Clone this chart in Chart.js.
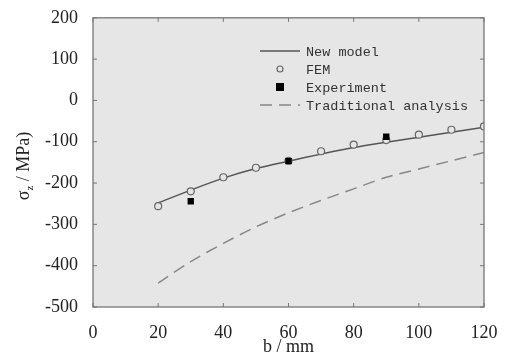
<!DOCTYPE html>
<html>
<head>
<meta charset="utf-8">
<script src="https://cdn.jsdelivr.net/npm/chart.js@4.4.1/dist/chart.umd.min.js"></script>
<style>
  html, body { margin: 0; padding: 0; background: #fff; }
  #wrap { width: 507px; height: 356px; }
</style>
</head>
<body>
<div id="wrap"><canvas id="chart" width="507" height="356"></canvas></div>
<script>
// b values (mm)
const bValues = [20, 30, 40, 50, 60, 70, 80, 90, 100, 110, 120];
const newModel = [-248, -217, -188, -165, -147, -130, -114, -101, -89, -77, -65];
const femValues = [-256, -220, -186, -163, -146, -123, -107, -96, -83, -71, -63];
const expB = [30, 60, 90];
const expValues = [-244, -147, -88];
const traditional = [-442, -390, -346, -306, -272, -242, -214, -186, -166, -146, -126];

const xTicks = [0, 20, 40, 60, 80, 100, 120];
const yTicks = [-500, -400, -300, -200, -100, 0, 100, 200];
const legendLabels = ['New model', 'FEM', 'Experiment', 'Traditional analysis'];

const toPoints = (xs, ys) => xs.map((x, i) => ({ x: x, y: ys[i] }));

const serif = '"Liberation Serif", "DejaVu Serif", serif';

// gray plot background, frame with inward ticks, axis titles and legend
const framePlugin = {
    id: 'frame',
    beforeDatasetsDraw(chart) {
        const { ctx, chartArea: a } = chart;
        ctx.save();
        ctx.fillStyle = '#e6e6e6';
        ctx.fillRect(a.left, a.top, a.right - a.left, a.bottom - a.top);
        ctx.restore();
    },
    afterDatasetsDraw(chart) {
        const { ctx, chartArea: a, scales } = chart;
        ctx.save();
        ctx.strokeStyle = '#777';
        ctx.lineWidth = 1.3;
        ctx.strokeRect(a.left, a.top, a.right - a.left, a.bottom - a.top);
        ctx.lineWidth = 1;
        ctx.beginPath();
        xTicks.forEach(v => {
            const px = scales.x.getPixelForValue(v);
            ctx.moveTo(px, a.bottom); ctx.lineTo(px, a.bottom - 4);
            ctx.moveTo(px, a.top); ctx.lineTo(px, a.top + 4);
        });
        yTicks.forEach(v => {
            const py = scales.y.getPixelForValue(v);
            ctx.moveTo(a.left, py); ctx.lineTo(a.left + 4, py);
            ctx.moveTo(a.right, py); ctx.lineTo(a.right - 4, py);
        });
        ctx.stroke();

        // x axis title
        ctx.fillStyle = '#222';
        ctx.font = '18px ' + serif;
        ctx.textAlign = 'center';
        ctx.textBaseline = 'middle';
        ctx.fillText('b / mm', (a.left + a.right) / 2, 347);

        // y axis title with subscript
        ctx.save();
        ctx.translate(24, 166);
        ctx.rotate(-Math.PI / 2);
        ctx.textAlign = 'left';
        const sig = 'σ', rest = ' / MPa)';
        ctx.font = '18px ' + serif;
        const w1 = ctx.measureText(sig).width;
        ctx.font = '11px ' + serif;
        const w2 = ctx.measureText('z').width;
        ctx.font = '18px ' + serif;
        const w3 = ctx.measureText(rest).width;
        const x0 = -(w1 + w2 + w3) / 2;
        ctx.fillText(sig, x0, 0);
        ctx.font = '11px ' + serif;
        ctx.fillText('z', x0 + w1, 6);
        ctx.font = '18px ' + serif;
        ctx.fillText(rest, x0 + w1 + w2, 0);
        ctx.restore();

        // legend
        const rows = [51, 69, 87, 105];
        const sx0 = 260, sx1 = 300, tx = 306;
        ctx.font = '13.5px "Liberation Mono", "DejaVu Sans Mono", monospace';
        ctx.textAlign = 'left';
        ctx.textBaseline = 'middle';
        chart.data.datasets.forEach((ds, i) => {
            const y = rows[i];
            ctx.save();
            if (ds.showLine !== false) {
                ctx.strokeStyle = ds.borderColor;
                ctx.lineWidth = ds.borderWidth;
                ctx.setLineDash(ds.borderDash || []);
                ctx.beginPath();
                ctx.moveTo(sx0, y); ctx.lineTo(sx1, y);
                ctx.stroke();
            } else if (ds.pointStyle === 'rect') {
                ctx.fillStyle = ds.pointBackgroundColor;
                ctx.fillRect(276, y - 4, 8, 8);
            } else {
                ctx.strokeStyle = ds.pointBorderColor;
                ctx.lineWidth = 1.2;
                ctx.beginPath();
                ctx.arc(280, y, 3, 0, Math.PI * 2);
                ctx.stroke();
            }
            ctx.restore();
            ctx.fillStyle = '#333';
            ctx.fillText(legendLabels[i], tx, y + 1);
        });
        ctx.restore();
    }
};

new Chart('chart', {
    type: 'scatter',
    data: {
        datasets: [{
            data: toPoints(bValues, newModel),
            showLine: true,
            borderColor: '#555',
            borderWidth: 1.5,
            pointRadius: 0,
            tension: 0.3,
            order: 3
        }, {
            data: toPoints(bValues, femValues),
            showLine: false,
            pointStyle: 'circle',
            pointRadius: 3.5,
            pointBorderWidth: 1.2,
            pointBorderColor: '#666',
            pointBackgroundColor: '#e6e6e6',
            order: 2
        }, {
            data: toPoints(expB, expValues),
            showLine: false,
            pointStyle: 'rect',
            pointRadius: 4.5,
            pointBorderWidth: 0,
            pointBackgroundColor: '#000',
            pointBorderColor: '#000',
            order: 1
        }, {
            data: toPoints(bValues, traditional),
            showLine: true,
            borderColor: '#888',
            borderWidth: 1.5,
            borderDash: [12, 7],
            pointRadius: 0,
            tension: 0.3,
            order: 4
        }]
    },
    options: {
        responsive: false,
        animation: false,
        layout: { padding: { top: 16, right: 23, left: 0, bottom: 0 } },
        plugins: { legend: { display: false }, tooltip: { enabled: false } },
        scales: {
            x: {
                type: 'linear',
                min: 0, max: 120,
                afterBuildTicks: s => { s.ticks = xTicks.map(v => ({ value: v })); },
                afterFit: s => { s.height = 49; },
                grid: { display: false },
                border: { display: false },
                ticks: {
                    padding: 7, color: '#222',
                    font: { family: serif, size: 18 },
                    callback: v => String(v)
                }
            },
            y: {
                min: -500, max: 200,
                afterBuildTicks: s => { s.ticks = yTicks.map(v => ({ value: v })); },
                afterFit: s => { s.width = 93; },
                grid: { display: false },
                border: { display: false },
                ticks: {
                    padding: 7, color: '#222',
                    font: { family: serif, size: 18 },
                    callback: v => String(v)
                }
            }
        }
    },
    plugins: [framePlugin]
});
</script>
</body>
</html>
